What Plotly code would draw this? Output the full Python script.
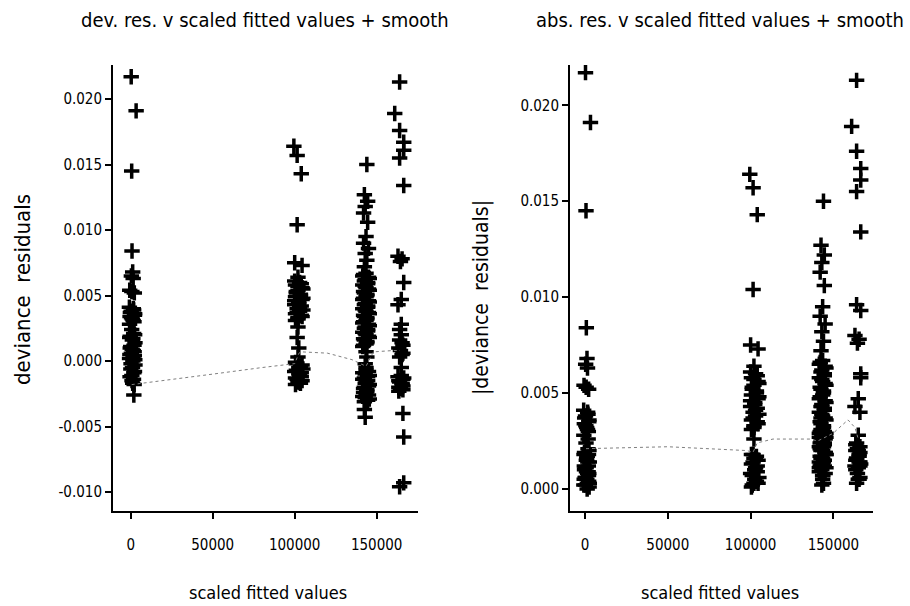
import plotly.graph_objects as go

# ---------------- data ----------------
# cluster near 0
fit0 = [300, 3300, 600, 800, 1200, 400, 1500, -600, 700, 2200, -800, 1600, 300, 2400, -400, 1000,
        2000, -700, 600, 1800, -300, 1300, 2600, 0, 900, 2100, -500, 1400, 2500, 200, 1100, 2300,
        700, 1700, 1200, 1900,
        1800, -200, 2300, 500, 1500, 2400, -600, 1000, 2000, -300, 1600, 400, 2200, -700, 1300, 2600,
        100, 1900, -400, 800, 2100]
res0 = [0.0217, 0.0191, 0.0145, 0.0084, 0.0068, 0.0065, 0.0063, 0.0054, 0.0053, 0.0052, 0.0041,
        0.0040, 0.0038, 0.0036, 0.0034, 0.0032, 0.0030, 0.0028, 0.0024, 0.0021, 0.0019, 0.0017,
        0.0014, 0.0011, 0.0009, 0.0007, 0.0005, 0.0003, 0.0001, -0.0002, -0.0005, -0.0008,
        -0.0011, -0.0014, -0.0017, -0.0026,
        0.0039, 0.0037, 0.0035, 0.0033, 0.0031, 0.0020, 0.0018, 0.0016, 0.0012, 0.0010, 0.0008,
        0.0006, 0.0004, 0.0002, 0.0000, -0.0003, -0.0006, -0.0009, -0.0012, -0.0015, -0.0018]

# cluster near 100000
fit1 = [99500, 101500, 104000, 101500, 100000, 104500, 102000,
        100000, 104000, 102000, 105000, 101000, 103500, 100500, 104500, 102500, 100000, 103000,
        105000, 101500, 104000, 102000, 100500,
        102000, 101500, 102500, 102000,
        100500, 104500, 102500, 101000, 104000, 103000, 100500, 104500, 102000, 103500,
        103000, 100500, 104500, 102000, 101000, 103500, 105000, 100000, 102500, 104000, 101500,
        103000, 100500, 104500, 102000,
        101000, 103500, 105000, 100000, 102500, 104000, 101500, 103000, 100500]
res1 = [0.0164, 0.0157, 0.0143, 0.0104, 0.0075, 0.0073, 0.0064,
        0.0061, 0.0059, 0.0057, 0.0055, 0.0053, 0.0051, 0.0049, 0.0047, 0.0045, 0.0043, 0.0041,
        0.0039, 0.0037, 0.0035, 0.0033, 0.0031,
        0.0026, 0.0018, 0.0010, 0.0003,
        -0.0001, -0.0003, -0.0005, -0.0007, -0.0009, -0.0011, -0.0013, -0.0015, -0.0016, -0.0017,
        0.0060, 0.0058, 0.0056, 0.0054, 0.0052, 0.0050, 0.0048, 0.0046, 0.0044, 0.0042, 0.0040,
        0.0038, 0.0036, 0.0034, 0.0032,
        -0.0002, -0.0004, -0.0006, -0.0008, -0.0010, -0.0012, -0.0014, -0.0016, -0.0018]

# cluster near 143000
fit2 = [144000, 142500, 144500, 143000, 142000, 144500, 143500, 142000, 145000, 143000, 144000, 142500,
        143500, 141500, 145500, 142500, 144500, 143000, 145000, 142000, 144000, 143500, 141500, 145500,
        142500, 144500, 143000, 145000, 142000, 144000, 143500, 141500, 145500, 142500, 144500, 143000,
        145000, 142000, 144000, 143500, 141500,
        143500, 144000, 143000, 143500,
        143500, 141500, 145500, 142500, 144500, 143000, 145000, 142000, 144000, 143500, 141500, 145500,
        142500,
        142500, 143000,
        142000, 145000, 143000, 144500, 141500, 143500, 145500, 142500, 144000, 142000, 145000, 143000,
        144500, 141500, 143500, 145500, 142500, 144000, 142000, 145000, 143000, 144500, 141500, 143500,
        145500, 142500, 144000, 142000,
        145000, 143000, 144500, 141500, 143500, 145500, 142500, 144000, 142000, 145000, 143000, 144500]
res2 = [0.0150, 0.0127, 0.0122, 0.0118, 0.0113, 0.0106, 0.0095, 0.0090, 0.0086, 0.0082, 0.0077, 0.0072,
        0.0067, 0.0065, 0.0063, 0.0061, 0.0059, 0.0057, 0.0055, 0.0053, 0.0051, 0.0049, 0.0047, 0.0045,
        0.0043, 0.0041, 0.0039, 0.0037, 0.0035, 0.0033, 0.0031, 0.0029, 0.0027, 0.0025, 0.0023, 0.0021,
        0.0019, 0.0017, 0.0015, 0.0013, 0.0011,
        0.0007, 0.0003, -0.0002, -0.0005,
        -0.0007, -0.0009, -0.0011, -0.0013, -0.0015, -0.0017, -0.0019, -0.0021, -0.0023, -0.0025, -0.0027,
        -0.0029, -0.0031,
        -0.0037, -0.0043,
        0.0066, 0.0064, 0.0062, 0.0060, 0.0058, 0.0056, 0.0054, 0.0052, 0.0050, 0.0048, 0.0046, 0.0044,
        0.0042, 0.0040, 0.0038, 0.0036, 0.0034, 0.0032, 0.0030, 0.0028, 0.0026, 0.0024, 0.0022, 0.0020,
        0.0018, 0.0016, 0.0014, 0.0012,
        -0.0008, -0.0010, -0.0012, -0.0014, -0.0016, -0.0018, -0.0020, -0.0022, -0.0024, -0.0026, -0.0028,
        -0.0030]

# cluster near 164000
fit3 = [164000, 161000, 164000, 166500, 166500, 164000, 166500, 163000, 165500, 164500, 166500, 165000,
        163000, 165000, 164000, 165000, 164000, 166000, 164500, 165500, 165000, 163000, 166000, 164000,
        165500, 163500, 166000, 166000, 166500, 166500, 164000,
        165500, 163500, 166000, 164000, 165000, 166500, 163500, 165500, 166000, 164500, 163500]
res3 = [0.0213, 0.0189, 0.0176, 0.0167, 0.0161, 0.0155, 0.0134, 0.0080, 0.0078, 0.0076, 0.0060, 0.0047,
        0.0043, 0.0028, 0.0024, 0.0020, 0.0016, 0.0012, 0.0008, 0.0005, -0.0005, -0.0012, -0.0014, -0.0016,
        -0.0018, -0.0020, -0.0022, -0.0040, -0.0058, -0.0093, -0.0096,
        0.0014, 0.0010, 0.0006, 0.0003, -0.0011, -0.0013, -0.0015, -0.0017, -0.0019, -0.0021, -0.0023]

scaled_fitted = fit0 + fit1 + fit2 + fit3
dev_res = res0 + res1 + res2 + res3
abs_res = [abs(v) for v in dev_res]

smooth_left_x = [600, 20000, 50000, 80000, 100000, 102600, 104000, 120000, 135000, 143500, 148000, 160000, 164200]
smooth_left_y = [-0.0018, -0.0015, -0.0010, -0.0005, -0.0002, 0.0006, 0.0007, 0.0006, 0.0001, -0.0004, 0.0007, 0.0008, 0.0008]

smooth_right_x = [600, 50000, 97800, 101400, 104000, 113500, 135900, 140500, 149800, 158800, 163000, 165000]
smooth_right_y = [0.0021, 0.0022, 0.0020, 0.0019, 0.0024, 0.0026, 0.0026, 0.0025, 0.0029, 0.0036, 0.0032, 0.0026]

x_ticks = [0, 50000, 100000, 150000]
x_ticktext = ["0", "50000", "100000", "150000"]
yl_ticks = [0.020, 0.015, 0.010, 0.005, 0.000, -0.005, -0.010]
yl_ticktext = ["0.020", "0.015", "0.010", "0.005", "0.000", "-0.005", "-0.010"]
yr_ticks = [0.020, 0.015, 0.010, 0.005, 0.000]
yr_ticktext = ["0.020", "0.015", "0.010", "0.005", "0.000"]

# ---------------- figure ----------------
W, H = 910, 606
FONT = "DejaVu Sans Condensed, DejaVu Sans, sans-serif"


def fx(p):
    return p / W


def fy(p):
    return 1 - p / H


marker = dict(symbol="cross-thin", size=11, color="black", line=dict(width=3.5, color="black"))
smooth_line = dict(color="#808080", width=1, dash="dot")

fig = go.Figure()
fig.add_trace(go.Scatter(x=scaled_fitted, y=dev_res, mode="markers", marker=marker,
                         xaxis="x", yaxis="y", hoverinfo="skip"))
fig.add_trace(go.Scatter(x=smooth_left_x, y=smooth_left_y, mode="lines", line=smooth_line,
                         xaxis="x", yaxis="y", hoverinfo="skip"))
fig.add_trace(go.Scatter(x=scaled_fitted, y=abs_res, mode="markers", marker=marker,
                         xaxis="x2", yaxis="y2", hoverinfo="skip"))
fig.add_trace(go.Scatter(x=smooth_right_x, y=smooth_right_y, mode="lines", line=smooth_line,
                         xaxis="x2", yaxis="y2", hoverinfo="skip"))

axis_common = dict(showline=True, linecolor="black", linewidth=2, ticks="outside", ticklen=6,
                   tickwidth=1.5, tickcolor="black", showgrid=False, zeroline=False,
                   tickfont=dict(family=FONT, size=15, color="black"))

ydom = [fy(511), fy(65)]
fig.update_layout(
    width=W, height=H,
    margin=dict(l=0, r=0, t=0, b=0),
    paper_bgcolor="white", plot_bgcolor="white",
    showlegend=False,
    xaxis=dict(domain=[fx(113), fx(418)], range=[-10800, 175200], anchor="y",
               tickvals=x_ticks, ticktext=x_ticktext, ticklabelstandoff=13, **axis_common),
    yaxis=dict(domain=ydom, range=[-0.01145, 0.0226], anchor="x",
               tickvals=yl_ticks, ticktext=yl_ticktext, **axis_common),
    xaxis2=dict(domain=[fx(570), fx(873)], range=[-9060, 173900], anchor="y2",
                tickvals=x_ticks, ticktext=x_ticktext, ticklabelstandoff=13, **axis_common),
    yaxis2=dict(domain=ydom, range=[-0.00115, 0.0221], anchor="x2",
                tickvals=yr_ticks, ticktext=yr_ticktext, **axis_common),
)

title_font = dict(family=FONT, size=20, color="black")
annotations = [
    dict(text="dev. res. v scaled fitted values + smooth", x=fx(265), y=fy(20), font=title_font),
    dict(text="abs. res. v scaled fitted values + smooth", x=fx(720), y=fy(20), font=title_font),
    dict(text="scaled fitted values", x=fx(268), y=fy(592), font=dict(family=FONT, size=18, color="black")),
    dict(text="scaled fitted values", x=fx(720), y=fy(592), font=dict(family=FONT, size=18, color="black")),
    dict(text="deviance  residuals", x=fx(22), y=fy(290), font=dict(family=FONT, size=22, color="black"),
         textangle=-90),
    dict(text="|deviance  residuals|", x=fx(481), y=fy(298), font=dict(family=FONT, size=21, color="black"),
         textangle=-90),
]
for a in annotations:
    fig.add_annotation(xref="paper", yref="paper", showarrow=False, xanchor="center",
                       yanchor="middle", **a)

fig.write_html("out.html", config={"displayModeBar": False},
               post_script="document.body.style.margin='0px';")
